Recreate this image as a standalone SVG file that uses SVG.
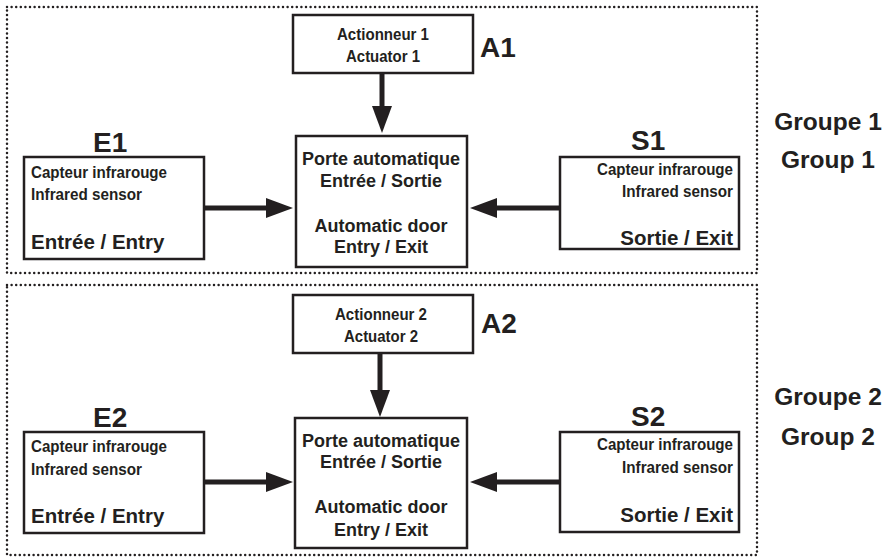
<svg xmlns="http://www.w3.org/2000/svg" width="887" height="558" viewBox="0 0 887 558">
<style>
.bg{fill:#fff}
.grp{fill:none;stroke:#231f20;stroke-width:2.5;stroke-dasharray:0 4.6;stroke-linecap:round}
.box{fill:#fff;stroke:#231f20;stroke-width:2.5}
.con{stroke:#231f20;stroke-width:5;fill:none}
text{font-family:"Liberation Sans",Arial,sans-serif;font-weight:bold;fill:#231f20}
.lbl{font-size:28px}
.small{font-size:16.5px}
.mid{font-size:20.5px}
.door{font-size:18px;text-anchor:middle}
.act{font-size:16.5px;text-anchor:middle}
.gt{font-size:24.5px;text-anchor:middle}
.r{text-anchor:end}
</style>
<defs>
<marker id="ah" markerUnits="userSpaceOnUse" markerWidth="28" markerHeight="22" viewBox="0 -11 28 22" refX="0" refY="0" orient="auto">
<path d="M0,-10 L27,0 L0,10 z" fill="#231f20"/>
</marker>
</defs>
<rect class="bg" x="0" y="0" width="887" height="558"/>
<g id="group1">
<rect class="grp" x="7" y="7" width="750" height="266"/>
<text class="gt" x="828" y="130">Groupe 1</text>
<text class="gt" x="828" y="168">Group 1</text>
</g>
<g id="group2">
<rect class="grp" x="7" y="285" width="750" height="270"/>
<text class="gt" x="828" y="405">Groupe 2</text>
<text class="gt" x="828" y="445">Group 2</text>
</g>
<g id="connectors">
<line class="con" x1="204" y1="208" x2="266" y2="208" marker-end="url(#ah)"/>
<line class="con" x1="560" y1="208" x2="497" y2="208" marker-end="url(#ah)"/>
<line class="con" x1="382" y1="73" x2="382" y2="106" marker-end="url(#ah)"/>
<line class="con" x1="204" y1="482" x2="266" y2="482" marker-end="url(#ah)"/>
<line class="con" x1="560" y1="482" x2="497" y2="482" marker-end="url(#ah)"/>
<line class="con" x1="380" y1="353" x2="380" y2="390" marker-end="url(#ah)"/>
</g>
<g id="A1">
<rect class="box" x="293" y="15" width="180" height="58"/>
<text class="act" x="383" y="40" textLength="92" lengthAdjust="spacingAndGlyphs">Actionneur 1</text>
<text class="act" x="383" y="62" textLength="74" lengthAdjust="spacingAndGlyphs">Actuator 1</text>
<text class="lbl" x="480" y="57">A1</text>
</g>
<g id="door1">
<rect class="box" x="296" y="136" width="171" height="131"/>
<text class="door" x="381" y="165">Porte automatique</text>
<text class="door" x="381" y="187">Entrée / Sortie</text>
<text class="door" x="381" y="232">Automatic door</text>
<text class="door" x="381" y="253">Entry / Exit</text>
</g>
<g id="E1">
<rect class="box" x="24" y="157" width="180" height="102"/>
<text class="lbl" x="93" y="152">E1</text>
<text class="small" x="31" y="178" textLength="136" lengthAdjust="spacingAndGlyphs">Capteur infrarouge</text>
<text class="small" x="31" y="200" textLength="111" lengthAdjust="spacingAndGlyphs">Infrared sensor</text>
<text class="mid" x="31" y="249">Entrée / Entry</text>
</g>
<g id="S1">
<rect class="box" x="560" y="157" width="179" height="92"/>
<text class="lbl" x="631" y="150">S1</text>
<text class="small r" x="733" y="175" textLength="136" lengthAdjust="spacingAndGlyphs">Capteur infrarouge</text>
<text class="small r" x="733" y="197" textLength="111" lengthAdjust="spacingAndGlyphs">Infrared sensor</text>
<text class="mid r" x="733" y="245">Sortie / Exit</text>
</g>
<g id="A2">
<rect class="box" x="293" y="295" width="180" height="58"/>
<text class="act" x="381" y="320" textLength="92" lengthAdjust="spacingAndGlyphs">Actionneur 2</text>
<text class="act" x="381" y="342" textLength="74" lengthAdjust="spacingAndGlyphs">Actuator 2</text>
<text class="lbl" x="481" y="333">A2</text>
</g>
<g id="door2">
<rect class="box" x="295" y="418" width="172" height="130"/>
<text class="door" x="381" y="447">Porte automatique</text>
<text class="door" x="381" y="468">Entrée / Sortie</text>
<text class="door" x="381" y="513">Automatic door</text>
<text class="door" x="381" y="536">Entry / Exit</text>
</g>
<g id="E2">
<rect class="box" x="24" y="432" width="180" height="101"/>
<text class="lbl" x="93" y="427">E2</text>
<text class="small" x="31" y="452" textLength="136" lengthAdjust="spacingAndGlyphs">Capteur infrarouge</text>
<text class="small" x="31" y="475" textLength="111" lengthAdjust="spacingAndGlyphs">Infrared sensor</text>
<text class="mid" x="31" y="523">Entrée / Entry</text>
</g>
<g id="S2">
<rect class="box" x="560" y="432" width="179" height="100"/>
<text class="lbl" x="631" y="426">S2</text>
<text class="small r" x="733" y="450" textLength="136" lengthAdjust="spacingAndGlyphs">Capteur infrarouge</text>
<text class="small r" x="733" y="473" textLength="111" lengthAdjust="spacingAndGlyphs">Infrared sensor</text>
<text class="mid r" x="733" y="522">Sortie / Exit</text>
</g>
</svg>
